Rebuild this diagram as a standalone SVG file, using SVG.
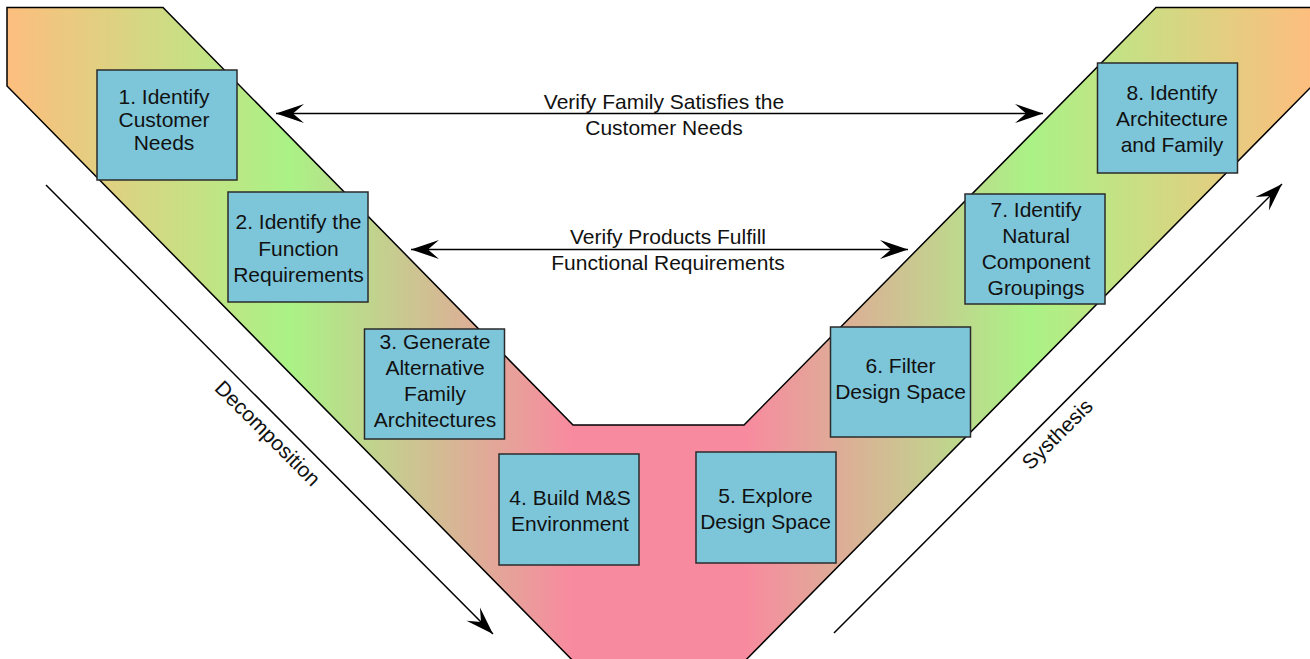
<svg xmlns="http://www.w3.org/2000/svg" width="1310" height="659" viewBox="0 0 1310 659">
<style>
.box{fill:#7DC6DA;stroke:#2b2b2b;stroke-width:1.5}
.t{font-family:"Liberation Sans",Arial,sans-serif;font-size:21px;fill:#111;text-anchor:middle}
.ln{stroke:#000;stroke-width:1.5;fill:none}
</style>
<defs>
<linearGradient id="vg" gradientUnits="userSpaceOnUse" x1="7" y1="0" x2="1310" y2="0">
<stop offset="0" stop-color="#FDBE7E"/>
<stop offset="0.217" stop-color="#AAF286"/>
<stop offset="0.434" stop-color="#F88A9F"/>
<stop offset="0.566" stop-color="#F88A9F"/>
<stop offset="0.785" stop-color="#AAF286"/>
<stop offset="1" stop-color="#FDBE7E"/>
</linearGradient>
<marker id="ah" viewBox="-30 -10 32 20" refX="0" refY="0" markerWidth="32" markerHeight="20" markerUnits="userSpaceOnUse" orient="auto-start-reverse">
<path d="M0,0 L-28,-9.5 L-17,0 L-28,9.5 Z" fill="#000"/>
</marker>
</defs>
<g id="vshape">
<polygon points="7,7.5 163,7.5 573,425 744,425 1156,7.5 1313,7.5 1313,85 734,672 584,672 7,86" fill="url(#vg)" stroke="#000" stroke-width="1.5" stroke-linejoin="miter"/>
</g>
<g id="connectors">
<line class="ln" x1="276" y1="113.5" x2="1043" y2="113.5" marker-start="url(#ah)" marker-end="url(#ah)"/>
<line class="ln" x1="411" y1="249.5" x2="908" y2="249.5" marker-start="url(#ah)" marker-end="url(#ah)"/>
<line class="ln" x1="46" y1="185" x2="493" y2="634" marker-end="url(#ah)"/>
<line class="ln" x1="834" y1="633" x2="1282" y2="184" marker-end="url(#ah)"/>
<text class="t" x="664" y="108.5">Verify Family Satisfies the</text>
<text class="t" x="664" y="134.5">Customer Needs</text>
<text class="t" x="668" y="244">Verify Products Fulfill</text>
<text class="t" x="668" y="270">Functional Requirements</text>
<text class="t" transform="translate(268,433) rotate(45)" y="7.5">Decomposition</text>
<text class="t" transform="translate(1057,434) rotate(-45)" y="7.5">Systhesis</text>
</g>
<g id="node1">
<rect class="box" x="97" y="70" width="140" height="110"/>
<text class="t" x="164" y="104">1. Identify</text>
<text class="t" x="164" y="127">Customer</text>
<text class="t" x="164" y="150">Needs</text>
</g>
<g id="node2">
<rect class="box" x="228" y="192" width="140" height="110"/>
<text class="t" x="298.5" y="229">2. Identify the</text>
<text class="t" x="298.5" y="256">Function</text>
<text class="t" x="298.5" y="282">Requirements</text>
</g>
<g id="node3">
<rect class="box" x="364.5" y="329" width="140" height="110"/>
<text class="t" x="435" y="349">3. Generate</text>
<text class="t" x="435" y="375">Alternative</text>
<text class="t" x="435" y="401">Family</text>
<text class="t" x="435" y="427">Architectures</text>
</g>
<g id="node4">
<rect class="box" x="499" y="454" width="140" height="111"/>
<text class="t" x="570" y="505">4. Build M&amp;S</text>
<text class="t" x="570" y="531">Environment</text>
</g>
<g id="node5">
<rect class="box" x="696" y="452" width="140" height="111"/>
<text class="t" x="765.5" y="503">5. Explore</text>
<text class="t" x="765.5" y="529">Design Space</text>
</g>
<g id="node6">
<rect class="box" x="830.5" y="327" width="140" height="110"/>
<text class="t" x="900.5" y="373">6. Filter</text>
<text class="t" x="900.5" y="399">Design Space</text>
</g>
<g id="node7">
<rect class="box" x="965" y="194" width="140" height="110"/>
<text class="t" x="1036" y="217">7. Identify</text>
<text class="t" x="1036" y="243">Natural</text>
<text class="t" x="1036" y="269">Component</text>
<text class="t" x="1036" y="295">Groupings</text>
</g>
<g id="node8">
<rect class="box" x="1097.5" y="63" width="140" height="110"/>
<text class="t" x="1172" y="99.5">8. Identify</text>
<text class="t" x="1172" y="125.5">Architecture</text>
<text class="t" x="1172" y="151.5">and Family</text>
</g>
</svg>
